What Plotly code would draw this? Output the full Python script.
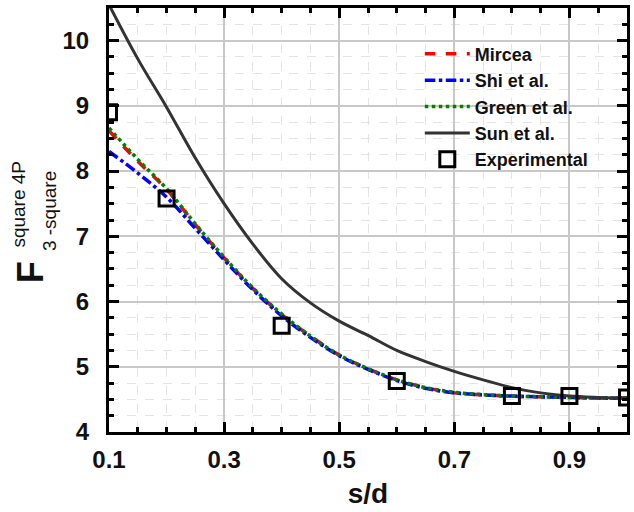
import plotly.graph_objects as go

x_curve = [0.1, 0.15, 0.2, 0.25, 0.3, 0.35, 0.4, 0.45, 0.5, 0.55, 0.6, 0.65, 0.7, 0.75, 0.8, 0.85, 0.9, 0.95, 1.0]
mircea = [8.62, 8.15, 7.72, 7.18, 6.67, 6.2, 5.8, 5.47, 5.18, 4.97, 4.8, 4.68, 4.6, 4.57, 4.55, 4.54, 4.53, 4.52, 4.52]
shi = [8.3, 7.97, 7.6, 7.12, 6.64, 6.18, 5.78, 5.45, 5.17, 4.96, 4.79, 4.67, 4.6, 4.57, 4.55, 4.54, 4.53, 4.52, 4.52]
green = [8.66, 8.18, 7.73, 7.19, 6.68, 6.21, 5.81, 5.47, 5.18, 4.97, 4.8, 4.68, 4.61, 4.57, 4.55, 4.54, 4.53, 4.52, 4.52]
sun = [10.55, 9.72, 8.98, 8.2, 7.5, 6.88, 6.35, 5.98, 5.7, 5.48, 5.25, 5.08, 4.93, 4.8, 4.68, 4.6, 4.55, 4.53, 4.52]
x_exp = [0.1, 0.2, 0.4, 0.6, 0.8, 0.9, 1.0]
y_exp = [8.9, 7.58, 5.63, 4.78, 4.55, 4.55, 4.53]

FONT = "Liberation Sans, Arial"

fig = go.Figure()
fig.add_trace(go.Scatter(x=x_curve, y=mircea, mode="lines", name="Mircea", legendrank=1,
                         line=dict(color="#ff0000", dash="dash", width=3.5, shape="spline")))
fig.add_trace(go.Scatter(x=x_curve, y=shi, mode="lines", name="Shi et al.", legendrank=2,
                         line=dict(color="#0000ff", dash="dashdot", width=3.5, shape="spline")))
fig.add_trace(go.Scatter(x=x_curve, y=green, mode="lines", name="Green et al.", legendrank=3,
                         line=dict(color="#008000", dash="dot", width=3.5, shape="spline")))
fig.add_trace(go.Scatter(x=x_curve, y=sun, mode="lines", name="Sun et al.", legendrank=4,
                         line=dict(color="#333333", width=3, shape="spline")))
fig.add_trace(go.Scatter(x=x_exp, y=y_exp, mode="markers", name="Experimental", legendrank=5,
                         marker=dict(symbol="square-open", size=15, color="black", line=dict(width=3, color="black"))))

axis_common = dict(
    showline=True, linewidth=3, linecolor="black", mirror="allticks",
    ticks="inside", ticklen=10, tickwidth=3, tickcolor="black",
    showgrid=True, gridcolor="#c8c8c8", gridwidth=1.5,
    zeroline=False,
    tickfont=dict(family=FONT, size=24, color="#111", weight="bold"),
)

fig.update_xaxes(range=[0.1, 1.0], tick0=0.1, dtick=0.2, **axis_common, ticklabelstandoff=4,
                 minor=dict(dtick=0.05, tick0=0.1, ticks="inside", ticklen=5, tickwidth=2.5, tickcolor="black",
                            showgrid=True, gridcolor="#e4e4e4", griddash="dash", gridwidth=1),
                 title=dict(text="s/d", font=dict(family=FONT, size=28, color="#111", weight="bold"),
                            standoff=12))
fig.update_yaxes(range=[4, 10.5], tick0=4, dtick=1, **axis_common, ticklabelstandoff=12,
                 minor=dict(dtick=0.25, tick0=4, ticks="inside", ticklen=5, tickwidth=2.5, tickcolor="black",
                            showgrid=True, gridcolor="#e4e4e4", griddash="dash", gridwidth=1))

ann_font = dict(family=FONT, color="#111")
fig.add_annotation(text="<b>F</b>", xref="paper", yref="paper", x=0, y=0.377, xshift=-79, textangle=-90,
                   xanchor="center", yanchor="middle",
                   showarrow=False, font=dict(size=36, **ann_font))
fig.add_annotation(text="square 4P", xref="paper", yref="paper", x=0, y=0.429, xshift=-90, textangle=-90,
                   xanchor="center", yanchor="bottom",
                   showarrow=False, font=dict(size=19, **ann_font))
fig.add_annotation(text="3 -square", xref="paper", yref="paper", x=0, y=0.422, xshift=-60, textangle=-90,
                   xanchor="center", yanchor="bottom",
                   showarrow=False, font=dict(size=19, **ann_font))

fig.update_layout(
    width=634, height=512,
    margin=dict(l=109, r=4, t=8, b=80),
    plot_bgcolor="white", paper_bgcolor="white",
    showlegend=True,
    legend=dict(x=0.6, y=0.935, xanchor="left", yanchor="top", bgcolor="rgba(0,0,0,0)",
                font=dict(family=FONT, size=18, color="#111", weight="bold"),
                tracegroupgap=0, itemwidth=45),
)

fig.write_html("out.html")
